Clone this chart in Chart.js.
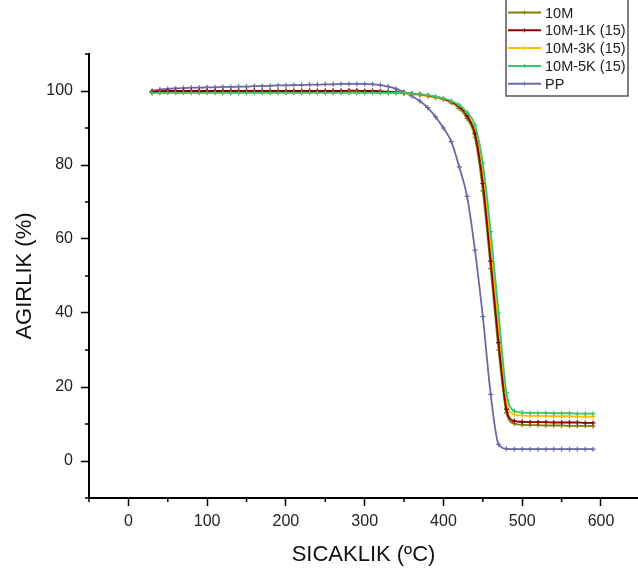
<!DOCTYPE html>
<html>
<head>
<meta charset="utf-8">
<script src="https://cdn.jsdelivr.net/npm/chart.js@4.4.0/dist/chart.umd.min.js"></script>
<style>
html, body { margin: 0; padding: 0; background: #fff; }
</style>
</head>
<body>
<canvas id="Chart_TGA" width="638" height="578"></canvas>
<script>
// temperature (C)
var temps = [30, 40, 50, 60, 70, 80, 90, 100, 110, 120, 130, 140, 150, 160, 170, 180, 190, 200, 210, 220,
    230, 240, 250, 260, 270, 280, 290, 300, 310, 320, 330, 340, 350, 360, 370, 380, 390, 400, 410, 420,
    430, 440, 450, 460, 470, 480, 490, 500, 510, 520, 530, 540, 550, 560, 570, 580, 590];

// weight (%)
var w10M = [99.8, 99.9, 100.0, 100.0, 100.0, 100.0, 100.0, 100.0, 100.0, 100.0, 100.0, 100.0, 100.0, 100.0, 100.0, 100.0, 100.0, 100.0, 100.0, 100.0,
    100.0, 100.0, 100.0, 100.0, 100.0, 100.0, 100.0, 99.9, 99.9, 99.8, 99.7, 99.6, 99.4, 99.2, 99.0, 98.7, 98.3, 97.7, 96.8, 95.3,
    92.6, 87.5, 73.0, 52.0, 30.0, 13.0, 10.1, 9.8, 9.7, 9.7, 9.6, 9.6, 9.6, 9.5, 9.5, 9.5, 9.4];

var w10M1K = [99.8, 99.9, 100.0, 100.0, 100.0, 100.0, 100.0, 100.0, 100.0, 100.0, 100.0, 100.0, 100.0, 100.0, 100.0, 100.0, 100.0, 100.0, 100.0, 100.0,
    100.0, 100.0, 100.0, 100.0, 100.0, 100.1, 100.1, 100.0, 100.0, 99.9, 99.8, 99.7, 99.5, 99.3, 99.1, 98.8, 98.4, 97.9, 97.1, 95.8,
    93.3, 88.5, 75.0, 54.0, 32.0, 14.0, 10.8, 10.6, 10.5, 10.5, 10.5, 10.4, 10.4, 10.4, 10.4, 10.3, 10.3];

var w10M3K = [99.5, 99.6, 99.6, 99.6, 99.6, 99.6, 99.6, 99.6, 99.6, 99.6, 99.6, 99.6, 99.6, 99.6, 99.6, 99.6, 99.7, 99.7, 99.7, 99.7,
    99.7, 99.7, 99.7, 99.7, 99.7, 99.7, 99.7, 99.7, 99.7, 99.6, 99.6, 99.5, 99.3, 99.1, 98.9, 98.6, 98.2, 97.7, 96.9, 95.6,
    93.4, 89.5, 78.0, 58.0, 36.0, 16.0, 12.6, 12.3, 12.2, 12.2, 12.2, 12.1, 12.1, 12.1, 12.0, 12.0, 12.0];

var w10M5K = [99.4, 99.5, 99.5, 99.5, 99.5, 99.5, 99.5, 99.5, 99.5, 99.5, 99.5, 99.5, 99.5, 99.5, 99.5, 99.5, 99.5, 99.5, 99.5, 99.5,
    99.5, 99.5, 99.5, 99.5, 99.5, 99.5, 99.5, 99.5, 99.5, 99.5, 99.5, 99.5, 99.5, 99.3, 99.1, 98.9, 98.5, 98.0, 97.3, 96.2,
    94.2, 90.8, 80.5, 62.0, 40.0, 18.5, 13.5, 13.1, 13.0, 13.0, 13.0, 12.9, 12.9, 12.9, 12.8, 12.8, 12.8];

var wPP = [100.0, 100.4, 100.6, 100.7, 100.8, 100.9, 100.9, 101.0, 101.0, 101.1, 101.1, 101.2, 101.2, 101.3, 101.3, 101.4, 101.5, 101.5, 101.6, 101.6,
    101.7, 101.7, 101.8, 101.8, 101.9, 101.9, 101.9, 101.9, 101.8, 101.6, 101.2, 100.6, 99.7, 98.6, 97.3, 95.5, 93.0, 90.0, 86.3, 79.5,
    71.5, 57.0, 39.0, 18.0, 4.5, 3.3, 3.2, 3.2, 3.2, 3.2, 3.2, 3.2, 3.2, 3.2, 3.2, 3.2, 3.2];

var seriesNames = ["10M", "10M-1K (15)", "10M-3K (15)", "10M-5K (15)", "PP"];
var seriesColors = ["#7f7f10", "#8b0000", "#ffc000", "#3cc46e", "#6a6aa6"];
var seriesData = [w10M, w10M1K, w10M3K, w10M5K, wPP];

var xTicks = [0, 100, 200, 300, 400, 500, 600];
var xMinor = [-50, 50, 150, 250, 350, 450, 550];
var yTicks = [0, 20, 40, 60, 80, 100];
var yMinor = [-10, 10, 30, 50, 70, 90, 110];

var FONT = "'Liberation Sans', Arial, sans-serif";

var DSets = [];
for (var i = 0; i < seriesNames.length; i++) {
    var pts = [];
    for (var j = 0; j < temps.length; j++) { pts.push({ x: temps[j], y: seriesData[i][j] }); }
    DSets.push({
        label: seriesNames[i], data: pts,
        borderColor: seriesColors[i], backgroundColor: seriesColors[i],
        borderWidth: 1.8, pointStyle: "cross", pointRadius: 2.5, pointBorderWidth: 1.2,
        cubicInterpolationMode: "monotone", order: [3, 1, 2, 0, 4][i]
    });
}

// minor ticks
var minorTicks = {
    id: "minorTicks",
    afterDraw: function (chart) {
        var ctx = chart.ctx, ca = chart.chartArea;
        var sx = chart.scales.x, sy = chart.scales.y;
        ctx.save();
        ctx.strokeStyle = "#000"; ctx.lineWidth = 1.5;
        ctx.beginPath();
        for (var i = 0; i < xMinor.length; i++) {
            var px = sx.getPixelForValue(xMinor[i]);
            ctx.moveTo(px, ca.bottom); ctx.lineTo(px, ca.bottom + 4);
        }
        for (var k = 0; k < yMinor.length; k++) {
            var py = sy.getPixelForValue(yMinor[k]);
            ctx.moveTo(ca.left, py); ctx.lineTo(ca.left - 4, py);
        }
        ctx.stroke();
        ctx.restore();
    }
};

// boxed legend top right
var boxLegend = {
    id: "boxLegend",
    afterDraw: function (chart) {
        var ctx = chart.ctx;
        ctx.save();
        ctx.fillStyle = "#fff";
        ctx.fillRect(506, -2, 122, 98);
        ctx.strokeStyle = "#555"; ctx.lineWidth = 1.5;
        ctx.strokeRect(506, -2, 122, 98);
        ctx.font = "14.5px " + FONT;
        ctx.textBaseline = "middle";
        for (var i = 0; i < seriesNames.length; i++) {
            var y = 12.5 + i * 17.8;
            ctx.strokeStyle = seriesColors[i]; ctx.lineWidth = 2;
            ctx.beginPath(); ctx.moveTo(508, y); ctx.lineTo(541, y); ctx.stroke();
            ctx.lineWidth = 1;
            ctx.beginPath(); ctx.moveTo(524.5, y - 2); ctx.lineTo(524.5, y + 2); ctx.stroke();
            ctx.fillStyle = "#222";
            ctx.fillText(seriesNames[i], 545, y + 1);
        }
        ctx.restore();
    }
};

var options = {
    responsive: false,
    animation: false,
    layout: { autoPadding: false, padding: { top: 54, right: 0, left: 0, bottom: 0 } },
    plugins: { legend: { display: false }, tooltip: { enabled: false } },
    scales: {
        x: {
            type: "linear", min: -50, max: 647,
            afterBuildTicks: function (axis) { axis.ticks = xTicks.map(function (v) { return { value: v }; }); },
            afterFit: function (axis) { axis.height = 80; axis.paddingRight = 0; axis.paddingLeft = 0; },
            grid: { drawOnChartArea: false, drawTicks: true, tickLength: 8, tickWidth: 1.5, tickColor: "#000" },
            border: { display: true, color: "#000", width: 2 },
            ticks: { padding: 6, color: "#222", font: { family: FONT, size: 16 }, maxRotation: 0 },
            title: { display: true, text: "SICAKLIK (ºC)", color: "#111", font: { family: FONT, size: 22 }, padding: { top: 0, bottom: 10 } }
        },
        y: {
            type: "linear", min: -10, max: 110,
            afterBuildTicks: function (axis) { axis.ticks = yTicks.map(function (v) { return { value: v }; }); },
            afterFit: function (axis) { axis.width = 89; },
            grid: { drawOnChartArea: false, drawTicks: true, tickLength: 8, tickWidth: 1.5, tickColor: "#000" },
            border: { display: true, color: "#000", width: 2 },
            ticks: { padding: 8, color: "#222", font: { family: FONT, size: 16 } },
            title: { display: true, text: "AGIRLIK (%)", color: "#111", font: { family: FONT, size: 22 }, padding: { top: 12, bottom: 0 } }
        }
    }
};

var chart = new Chart(document.getElementById("Chart_TGA"), {
    type: "line",
    data: { datasets: DSets },
    options: options,
    plugins: [minorTicks, boxLegend]
});
</script>
</body>
</html>
